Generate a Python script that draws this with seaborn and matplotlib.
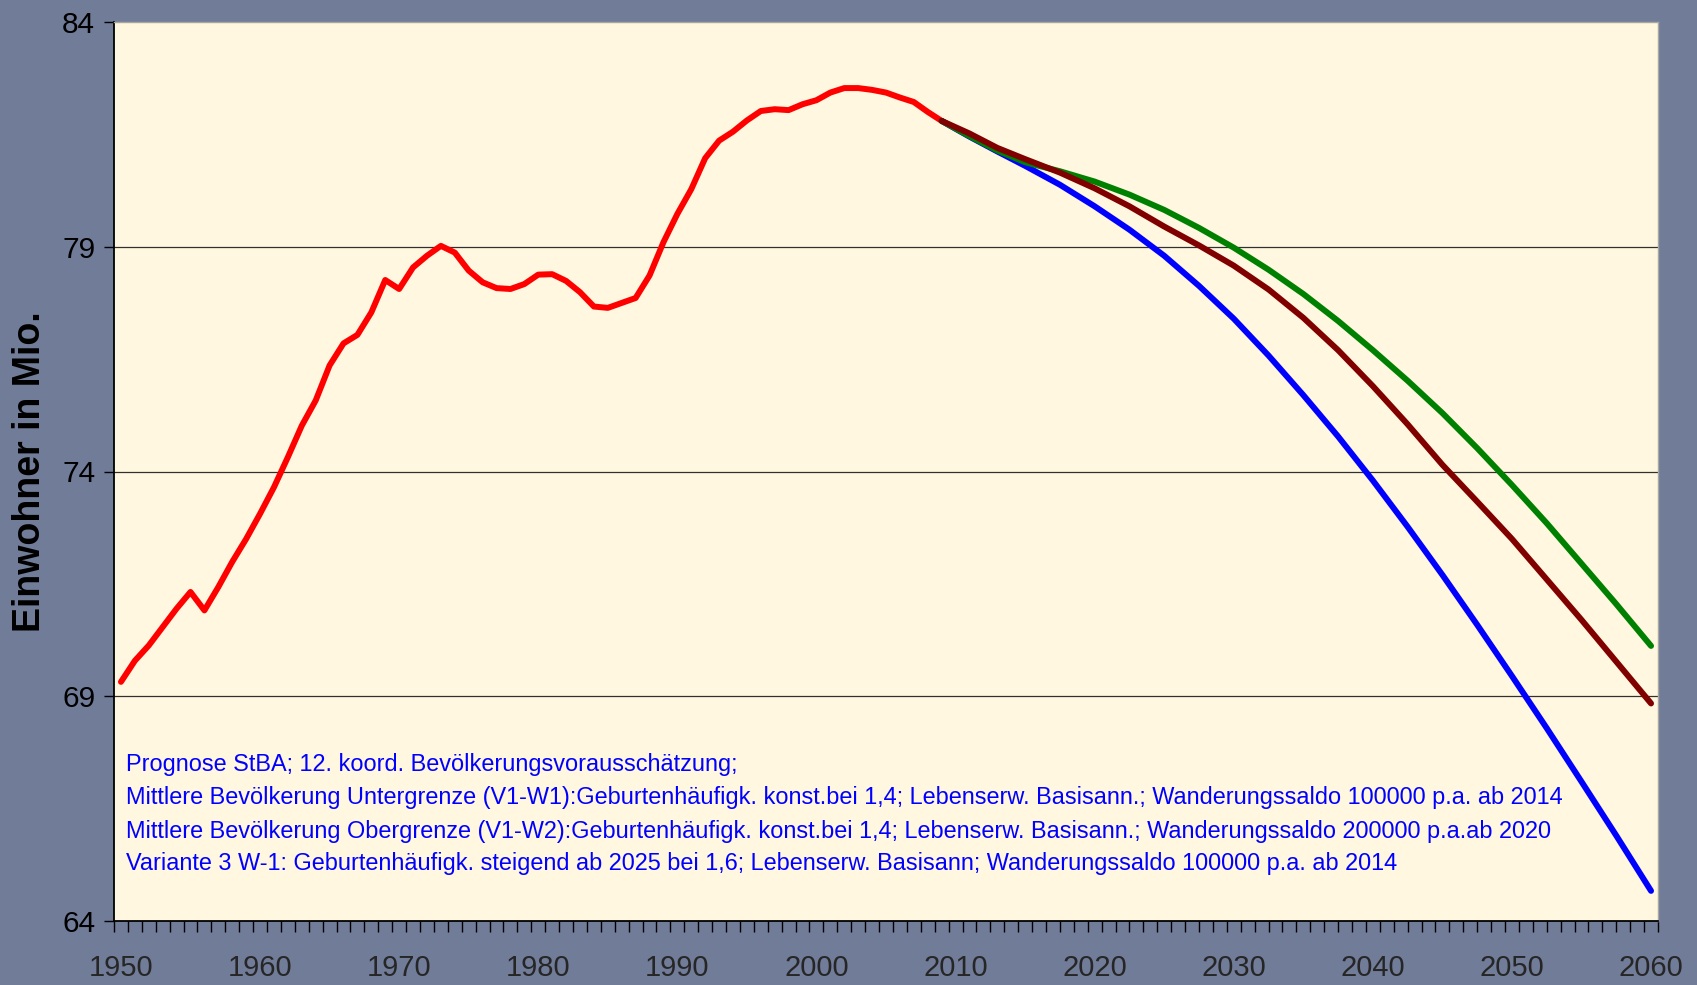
import numpy as np
import pandas as pd
import matplotlib
matplotlib.use("Agg")
import matplotlib.pyplot as plt
import seaborn as sns

# Einwohner Deutschland (Mio.), Ist-Werte
hist_years = list(range(1950, 2010))
hist_pop = [69.32, 69.79, 70.13, 70.54, 70.95, 71.32, 70.91, 71.43, 71.99, 72.50,
            73.06, 73.65, 74.32, 75.02, 75.58, 76.36, 76.85, 77.04, 77.54, 78.26,
            78.06, 78.54, 78.80, 79.02, 78.87, 78.47, 78.21, 78.08, 78.06, 78.17,
            78.38, 78.39, 78.24, 77.99, 77.67, 77.64, 77.75, 77.86, 78.36, 79.10,
            79.73, 80.28, 80.97, 81.36, 81.56, 81.81, 82.02, 82.06, 82.04, 82.17,
            82.26, 82.43, 82.53, 82.53, 82.49, 82.43, 82.32, 82.22, 82.00, 81.80]

# Prognosen
proj_years = [2009, 2011, 2013, 2015, 2017.5, 2020, 2022.5, 2025, 2027.5, 2030,
              2032.5, 2035, 2037.5, 2040, 2042.5, 2045, 2047.5, 2050, 2052.5,
              2055, 2057.5, 2060]
untergrenze = [81.80, 81.45, 81.12, 80.80, 80.38, 79.90, 79.38, 78.80, 78.13, 77.40,
               76.58, 75.70, 74.78, 73.80, 72.77, 71.70, 70.59, 69.45, 68.29,
               67.10, 65.90, 64.67]
variante3 = [81.80, 81.46, 81.14, 80.88, 80.68, 80.45, 80.16, 79.82, 79.42, 78.98,
             78.49, 77.95, 77.35, 76.70, 76.02, 75.30, 74.52, 73.70, 72.85,
             71.95, 71.05, 70.12]
obergrenze = [81.80, 81.52, 81.20, 80.95, 80.65, 80.30, 79.90, 79.45, 79.03, 78.58,
              78.05, 77.42, 76.70, 75.90, 75.05, 74.15, 73.33, 72.50, 71.60,
              70.70, 69.77, 68.84]

notes = [
    "Prognose StBA; 12. koord. Bevölkerungsvorausschätzung;",
    "Mittlere Bevölkerung Untergrenze (V1-W1):Geburtenhäufigk. konst.bei 1,4; Lebenserw. Basisann.; Wanderungssaldo 100000 p.a. ab 2014",
    "Mittlere Bevölkerung Obergrenze (V1-W2):Geburtenhäufigk. konst.bei 1,4; Lebenserw. Basisann.; Wanderungssaldo 200000 p.a.ab 2020",
    "Variante 3 W-1: Geburtenhäufigk. steigend ab 2025 bei 1,6; Lebenserw. Basisann; Wanderungssaldo 100000 p.a. ab 2014",
]

y_ticks = [64, 69, 74, 79, 84]
x_labels = list(range(1950, 2061, 10))

sns.set_style("white")
plt.rcParams["font.family"] = ["Liberation Sans", "DejaVu Sans"]

bg = "#717C99"
fig = plt.figure(figsize=(16.97, 9.85), dpi=100, facecolor=bg)
ax = fig.add_axes([114 / 1697, 1 - 921 / 985, 1544 / 1697, 899 / 985])
ax.set_facecolor("#FFF7DF")

df_hist = pd.DataFrame({"Jahr": hist_years, "Mio": hist_pop})
df_proj = pd.DataFrame({"Jahr": proj_years, "blau": untergrenze,
                        "gruen": variante3, "braun": obergrenze})

lw = 4.3
sns.lineplot(data=df_hist, x="Jahr", y="Mio", color="#FF0000", lw=lw, ax=ax,
             solid_capstyle="round", solid_joinstyle="round")
sns.lineplot(data=df_proj, x="Jahr", y="blau", color="#0000FF", lw=lw, ax=ax,
             solid_capstyle="round", solid_joinstyle="round")
sns.lineplot(data=df_proj, x="Jahr", y="gruen", color="#008000", lw=lw, ax=ax,
             solid_capstyle="round", solid_joinstyle="round")
sns.lineplot(data=df_proj, x="Jahr", y="braun", color="#800000", lw=lw, ax=ax,
             solid_capstyle="round", solid_joinstyle="round")

ax.set_xlim(1949.5, 2060.5)
ax.set_ylim(64, 84)

for v in y_ticks[1:-1]:
    ax.axhline(v, color="#303030", lw=0.9, zorder=0.5)

ax.set_yticks(y_ticks)
ax.tick_params(axis="y", direction="out", length=7.5, width=1, pad=6,
               labelsize=21.5, colors="black", left=True)
ax.set_xticks(x_labels)
ax.set_xticks(np.arange(1949.5, 2061, 1), minor=True)
ax.tick_params(axis="x", which="major", length=0, pad=24, labelsize=21)
ax.tick_params(axis="x", which="minor", direction="out", length=8, width=1,
               bottom=True, color="black")
ax.set_xlabel("")
ax.set_ylabel("")

for side in ["left", "bottom"]:
    ax.spines[side].set_color("black")
    ax.spines[side].set_linewidth(1.3)
for side in ["top", "right"]:
    ax.spines[side].set_color("#A8A8A0")
    ax.spines[side].set_linewidth(1.0)

fig.text(30 / 1697, 1 - 472 / 985, "Einwohner in Mio.", rotation=90,
         ha="center", va="center", fontsize=27, fontweight="bold", color="black")

note_y = [0.1746, 0.1372, 0.0999, 0.0637]
for txt, yy in zip(notes, note_y):
    ax.text(0.0078, yy, txt, transform=ax.transAxes, ha="left", va="center",
            fontsize=16.9, color="#0000FF")

fig.savefig("out.png", dpi=100, facecolor=bg)
